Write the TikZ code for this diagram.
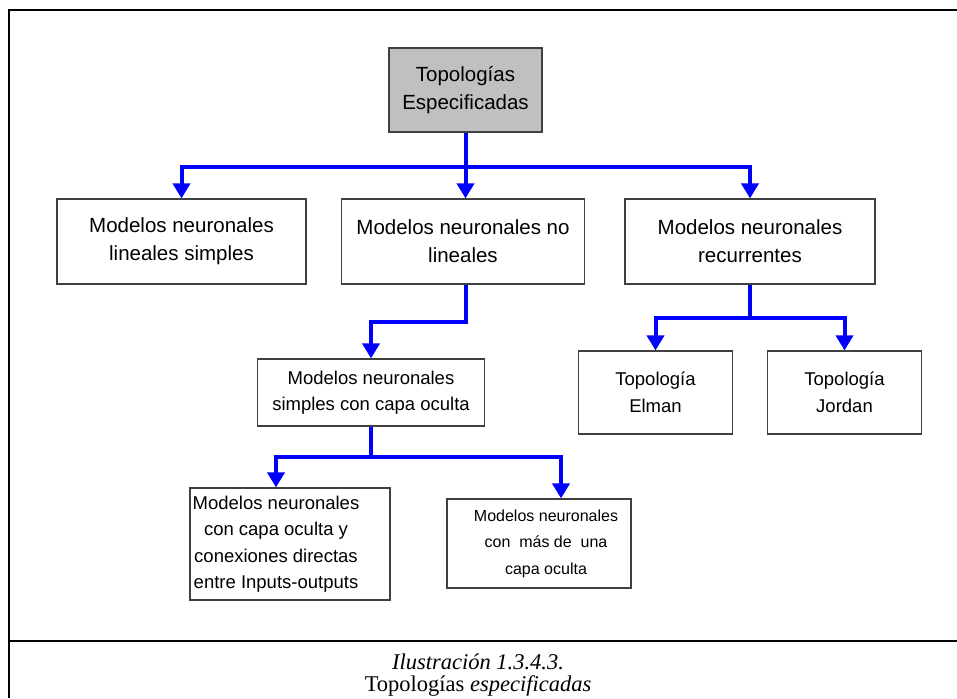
\documentclass[tikz,border=0pt]{standalone}
\usepackage{fontspec}
\setmainfont{Liberation Sans}
\newfontfamily\capfont{Liberation Serif}
\usetikzlibrary{arrows.meta}

\definecolor{linkblue}{RGB}{0,0,255}
\definecolor{topgray}{RGB}{192,192,192}
\definecolor{boxgray}{RGB}{64,64,64}

\newcommand{\lvlone}{\fontsize{20.5}{28}\selectfont}
\newcommand{\lvltwo}{\fontsize{18.5}{26.5}\selectfont}
\newcommand{\lvlthree}{\fontsize{16}{26.5}\selectfont}
\newcommand{\capsize}{\capfont\fontsize{22.5}{24}\selectfont}

\begin{document}
\begin{tikzpicture}[x=1pt,y=-1pt,
  box/.style={draw=boxgray, line width=1.2pt, fill=white, align=center, inner sep=0pt},
  txt/.style={align=center, inner sep=0pt},
  link/.style={draw=linkblue, line width=4pt, line join=miter},
  tip/.style={link, -{Triangle[width=17pt,length=15pt]}},
  frame/.style={draw=black, line width=2pt}
]
% canvas
\fill[white] (0,0) rectangle (957,698);
\useasboundingbox (0,0) rectangle (957,698);

% outer frame and caption separator
\draw[frame] (9,698) -- (9,10) -- (957,10);
\draw[frame] (9,641) -- (957,641);

% root
\node[box, fill=topgray, minimum width=153pt, minimum height=84pt, font=\lvlone]
  (top) at (465.5,90) {Topologías\\Especificadas};

% first level
\node[box, minimum width=249pt, minimum height=85pt, font=\lvlone]
  (lin) at (181.5,241.5) {Modelos neuronales\\lineales simples};
\node[box, minimum width=243pt, minimum height=85pt, font=\lvlone]
  (nolin) at (463,241.5) {Modelos neuronales no\\lineales};
\node[box, minimum width=250pt, minimum height=85pt, font=\lvlone]
  (rec) at (750,241.5) {Modelos neuronales\\recurrentes};

% second level
\node[box, minimum width=227pt, minimum height=67pt, font=\lvltwo]
  (oculta) at (371,392.5) {Modelos neuronales\\simples con capa oculta};
\node[box, minimum width=154pt, minimum height=83pt, font=\lvltwo]
  (elman) at (655.5,392.5) {Topología\\Elman};
\node[box, minimum width=154pt, minimum height=83pt, font=\lvltwo]
  (jordan) at (844.5,392.5) {Topología\\Jordan};

% third level
\node[box, minimum width=200pt, minimum height=112pt] (directas) at (290,544) {};
\node[txt, font=\lvltwo] (directastxt) at (276,544)
  {Modelos neuronales\\con capa oculta y\\conexiones directas\\entre Inputs-outputs};
\node[box, minimum width=184pt, minimum height=89pt] (masde) at (539,543.5) {};
\node[txt, font=\lvlthree] (masdetxt) at (546,543.5)
  {Modelos neuronales\\con\ \ más de\ \ una\\capa oculta};

% connectors
\coordinate (busA) at (465.5,167);
\draw[tip] (top.south) -- (top.south |- nolin.north);
\draw[tip] (busA) -| (lin.north);
\draw[tip] (busA) -| (rec.north);

\coordinate (busB) at (466,322);
\draw[tip] (busB |- nolin.south) -- (busB) -| (oculta.north);

\coordinate (busC) at (750,318);
\draw[link] (rec.south) -- (busC);
\draw[tip] (busC) -| (elman.north);
\draw[tip] (busC) -| (jordan.north);

\coordinate (busD) at (371,457);
\coordinate (dropD) at (276,457);
\coordinate (dropE) at (561,457);
\draw[link] (oculta.south) -- (busD);
\draw[tip] (busD) -- (dropD) -- (dropD |- directas.north);
\draw[tip] (busD) -- (dropE) -- (dropE |- masde.north);

% caption
\node[txt, font=\capsize] (captitle) at (478,662) {\itshape Ilustración 1.3.4.3.};
\node[txt, font=\capsize] (capsub) at (478,686) {Topologías \textit{especificadas}};
\end{tikzpicture}
\end{document}
